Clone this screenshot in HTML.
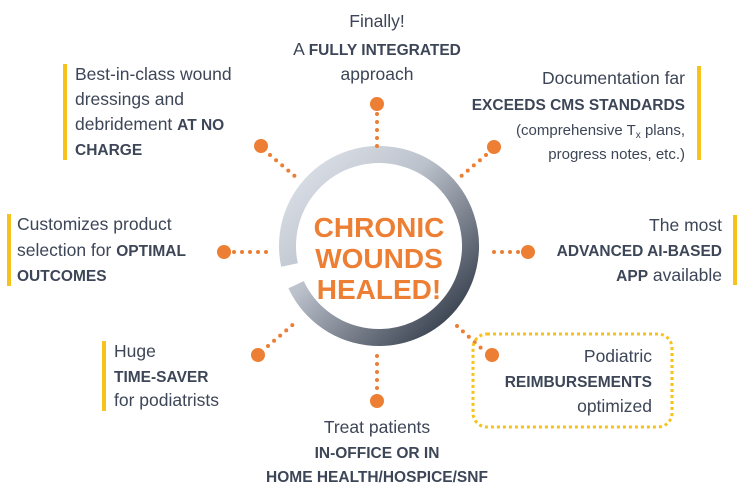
<!DOCTYPE html>
<html><head><meta charset="utf-8"><style>
html,body{margin:0;padding:0;background:#fff;}
svg{display:block;}
text{font-family:"Liberation Sans",Arial,sans-serif;fill:#3d4657;font-size:17.5px;}
.b{font-weight:bold;font-size:15.5px;}
</style></head><body>
<svg width="741" height="498" viewBox="0 0 741 498" xmlns="http://www.w3.org/2000/svg">
<defs>
<linearGradient id="g" x1="0" y1="0" x2="1" y2="1">
<stop offset="0" stop-color="#e1e5ec"/>
<stop offset="0.4" stop-color="#bcc2cc"/>
<stop offset="1" stop-color="#222b3a"/>
</linearGradient>
</defs>
<path d="M289.5 265 A91.5 91.5 0 1 1 296.1 284.7" fill="none" stroke="url(#g)" stroke-width="17"/>
<text x="379" y="237" text-anchor="middle" style="fill:#ec7f34;font-weight:bold;font-size:28px">CHRONIC</text>
<text x="379" y="268" text-anchor="middle" style="fill:#ec7f34;font-weight:bold;font-size:28px">WOUNDS</text>
<text x="379" y="299" text-anchor="middle" style="fill:#ec7f34;font-weight:bold;font-size:28px">HEALED!</text>
<g stroke="#ec7f34" stroke-width="4" stroke-linecap="round" stroke-dasharray="0 8" fill="none">
<line x1="377" y1="114" x2="377" y2="148"/>
<line x1="270" y1="155" x2="297" y2="178"/>
<line x1="486" y1="155" x2="459" y2="178"/>
<line x1="234" y1="252" x2="270" y2="252"/>
<line x1="518" y1="252" x2="486" y2="252"/>
<line x1="268" y1="346" x2="296" y2="322"/>
<line x1="377" y1="356" x2="377" y2="390"/>
<line x1="457" y1="326" x2="481" y2="348"/>
</g>
<g fill="#ec7f34">
<circle cx="377" cy="104" r="7"/>
<circle cx="261" cy="146" r="7"/>
<circle cx="494" cy="147" r="7"/>
<circle cx="224" cy="252" r="7"/>
<circle cx="528" cy="252" r="7"/>
<circle cx="258" cy="355" r="7"/>
<circle cx="377" cy="401" r="7"/>
<circle cx="492" cy="355" r="7"/>
</g>
<g fill="#f7c21a">
<rect x="63" y="64" width="4" height="96"/>
<rect x="7" y="214" width="4" height="72"/>
<rect x="102" y="341" width="4" height="70"/>
<rect x="697" y="66" width="4" height="94"/>
<rect x="733" y="215" width="4" height="70"/>
</g>
<rect x="473" y="334" width="199" height="93" rx="14" fill="none" stroke="#f7c21a" stroke-width="3" stroke-dasharray="3 3"/>
<text x="377" y="27" text-anchor="middle">Finally!</text>
<text x="377" y="55" text-anchor="middle">A <tspan class="b">FULLY INTEGRATED</tspan></text>
<text x="377" y="80" text-anchor="middle">approach</text>

<text x="75" y="80">Best-in-class wound</text>
<text x="75" y="105">dressings and</text>
<text x="75" y="130">debridement <tspan class="b">AT NO</tspan></text>
<text x="75" y="155" class="b">CHARGE</text>

<text x="17" y="230">Customizes product</text>
<text x="17" y="256">selection for <tspan class="b">OPTIMAL</tspan></text>
<text x="17" y="281" class="b">OUTCOMES</text>

<text x="114" y="357">Huge</text>
<text x="114" y="382" class="b">TIME-SAVER</text>
<text x="114" y="406">for podiatrists</text>

<text x="377" y="433" text-anchor="middle">Treat patients</text>
<text x="377" y="458" text-anchor="middle" class="b">IN-OFFICE OR IN</text>
<text x="377" y="482" text-anchor="middle" class="b">HOME HEALTH/HOSPICE/SNF</text>

<text x="685" y="84" text-anchor="end">Documentation far</text>
<text x="685" y="110" text-anchor="end" class="b">EXCEEDS CMS STANDARDS</text>
<text x="685" y="135" text-anchor="end" style="font-size:15px">(comprehensive T<tspan style="font-size:10px" dy="3">x</tspan><tspan dy="-3"> plans,</tspan></text>
<text x="685" y="159" text-anchor="end" style="font-size:15px">progress notes, etc.)</text>

<text x="722" y="231" text-anchor="end">The most</text>
<text x="722" y="256" text-anchor="end" class="b">ADVANCED AI-BASED</text>
<text x="722" y="281" text-anchor="end"><tspan class="b">APP</tspan> available</text>

<text x="652" y="362" text-anchor="end">Podiatric</text>
<text x="652" y="387" text-anchor="end" class="b">REIMBURSEMENTS</text>
<text x="652" y="412" text-anchor="end">optimized</text>
</svg>
</body></html>
